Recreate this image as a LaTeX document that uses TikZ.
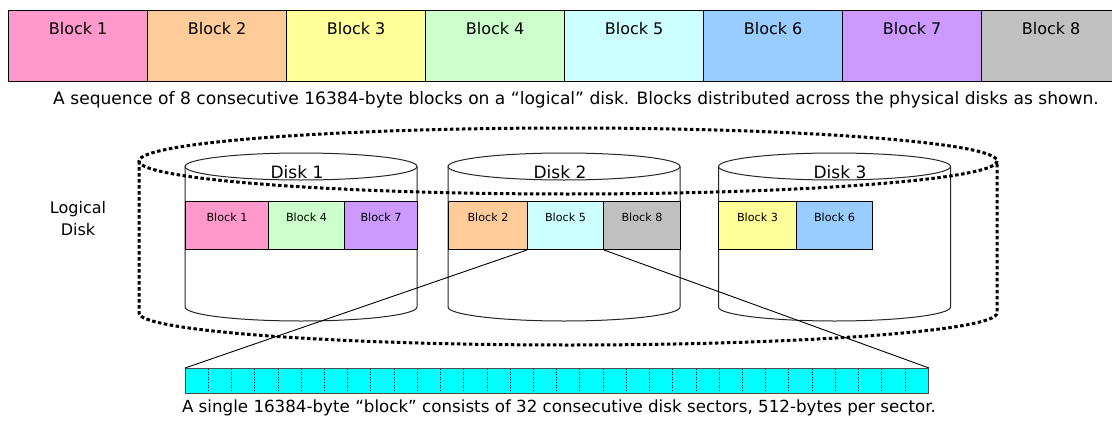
\documentclass[tikz,border=0pt]{standalone}
\usepackage{fontspec}
\setmainfont{DejaVu Sans}
\definecolor{c1}{HTML}{FF99CC}
\definecolor{c2}{HTML}{FFCC99}
\definecolor{c3}{HTML}{FFFF99}
\definecolor{c4}{HTML}{CCFFCC}
\definecolor{c5}{HTML}{CCFFFF}
\definecolor{c6}{HTML}{99CCFF}
\definecolor{c7}{HTML}{CC99FF}
\definecolor{c8}{HTML}{C0C0C0}
\definecolor{aqua}{RGB}{0,255,255}
\begin{document}
\begin{tikzpicture}[x=1pt,y=-1pt,
 bigblk/.style={draw=black, line width=1.2pt, inner sep=0pt, minimum width=139pt, text height=23.5pt, text depth=47.5pt, font=\fontsize{16}{19}\selectfont, anchor=north west},
 smallblk/.style={draw=black, line width=1pt, inner sep=0pt, text height=19.5pt, text depth=28.5pt, font=\fontsize{11.2}{13}\selectfont, anchor=north west},
 cyl/.style={draw=black!85, line width=1pt, fill=white},
 logical/.style={line width=3pt, dash pattern=on 3.5pt off 2.5pt, black},
 captxt/.style={inner sep=0pt},
 disklbl/.style={font=\fontsize{17}{20}\selectfont, inner sep=0pt},
 link/.style={draw=black, line width=0.9pt}]
\useasboundingbox (0,0) rectangle (1112,423);
\clip (0,0) rectangle (1112,423);
% top row of blocks
\node[bigblk, fill=c1] (t1) at (8,10) {Block 1};
\node[bigblk, fill=c2] (t2) at (147,10) {Block 2};
\node[bigblk, fill=c3] (t3) at (286,10) {Block 3};
\node[bigblk, fill=c4] (t4) at (425,10) {Block 4};
\node[bigblk, fill=c5] (t5) at (564,10) {Block 5};
\node[bigblk, fill=c6] (t6) at (703,10) {Block 6};
\node[bigblk, fill=c7] (t7) at (842,10) {Block 7};
\node[bigblk, fill=c8] (t8) at (981,10) {Block 8};
\node[captxt, font=\fontsize{17.1}{20}\selectfont] (cap1) at (576,100) {A sequence of 8 consecutive 16384-byte blocks on a “logical” disk. Blocks distributed across the physical disks as shown.};
% cylinders
\foreach \cx in {301,564,834.5}{
  \draw[cyl] (\cx-116,166.5) -- (\cx-116,307) arc[start angle=180,end angle=0,x radius=116,y radius=14] -- (\cx+116,166.5);
  \draw[cyl] (\cx,166.5) ellipse[x radius=116, y radius=13.5];
}
% logical disk outline
\draw[logical] (568,161) ellipse[x radius=429, y radius=33];
\draw[logical] (139,161) -- (139,313) arc[start angle=180,end angle=0,x radius=429,y radius=32] -- (997,161);
\node[font=\fontsize{16}{22}\selectfont, align=center, inner sep=0pt] (logical) at (78,219) {Logical\\Disk};
% disk labels
\node[disklbl] (d1) at (297,172) {Disk 1};
\node[disklbl] (d2) at (560,172) {Disk 2};
\node[disklbl] (d3) at (840,172) {Disk 3};
% blocks on disks
\node[smallblk, fill=c1, minimum width=83pt] (b1) at (185,201) {Block 1};
\node[smallblk, fill=c4, minimum width=76pt] (b4) at (268,201) {Block 4};
\node[smallblk, fill=c7, minimum width=73pt] (b7) at (344,201) {Block 7};
\node[smallblk, fill=c2, minimum width=79pt] (b2) at (448,201) {Block 2};
\node[smallblk, fill=c5, minimum width=76pt] (b5) at (527,201) {Block 5};
\node[smallblk, fill=c8, minimum width=77pt] (b8) at (603,201) {Block 8};
\node[smallblk, fill=c3, minimum width=78pt] (b3) at (718,201) {Block 3};
\node[smallblk, fill=c6, minimum width=76pt] (b6) at (796,201) {Block 6};
% sector bar
\node[draw=black!70, line width=1pt, fill=aqua, inner sep=0pt, minimum width=743pt, minimum height=25pt, anchor=north west] (bar) at (185,368) {};
\foreach \k in {1,...,31}{
  \draw[dotted, line width=0.6pt] (185+\k*23.22,369) -- (185+\k*23.22,392);
}
\draw[link] (b5.south west) -- (bar.north west);
\draw[link] (b5.south east) -- (bar.north east);
\node[captxt, font=\fontsize{16.7}{20}\selectfont] (cap2) at (559,408) {A single 16384-byte “block” consists of 32 consecutive disk sectors, 512-bytes per sector.};
\end{tikzpicture}
\end{document}
